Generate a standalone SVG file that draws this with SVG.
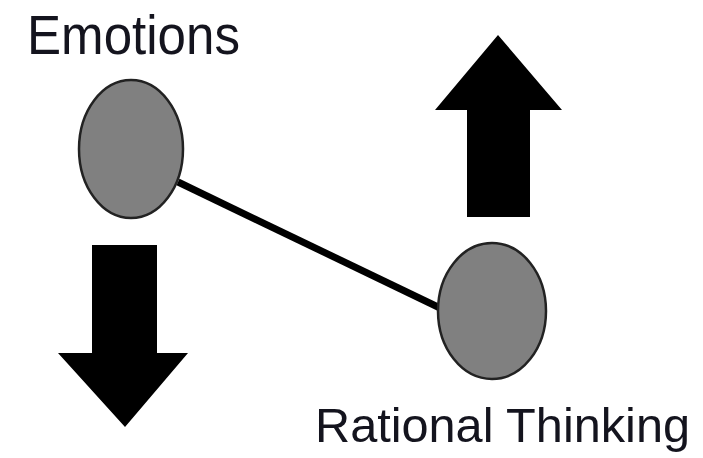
<svg xmlns="http://www.w3.org/2000/svg" width="703" height="458" viewBox="0 0 703 458">
<style>
.lbl{font-family:"Liberation Sans","DejaVu Sans",sans-serif;fill:#14141e}
.node{fill:#808080;stroke:#222;stroke-width:2.5}
.arrow{fill:#000}
</style>
<rect width="703" height="458" fill="#fff"/>
<g id="connectors">
<line x1="178" y1="182" x2="440" y2="308" stroke="#000" stroke-width="7"/>
</g>
<g id="emotions">
<ellipse class="node" cx="131" cy="149" rx="52" ry="69"/>
<text class="lbl" x="27" y="54" font-size="55" textLength="213" lengthAdjust="spacingAndGlyphs">Emotions</text>
</g>
<g id="rational">
<ellipse class="node" cx="492" cy="311" rx="54" ry="68"/>
<text class="lbl" x="315" y="442" font-size="48" textLength="375" lengthAdjust="spacingAndGlyphs">Rational Thinking</text>
</g>
<g id="arrow-up">
<polygon class="arrow" points="498,35 562,110 530,110 530,217 467,217 467,110 435,110"/>
</g>
<g id="arrow-down">
<polygon class="arrow" points="92,245 157,245 157,353 188,353 125,427 58,353 92,353"/>
</g>
</svg>
